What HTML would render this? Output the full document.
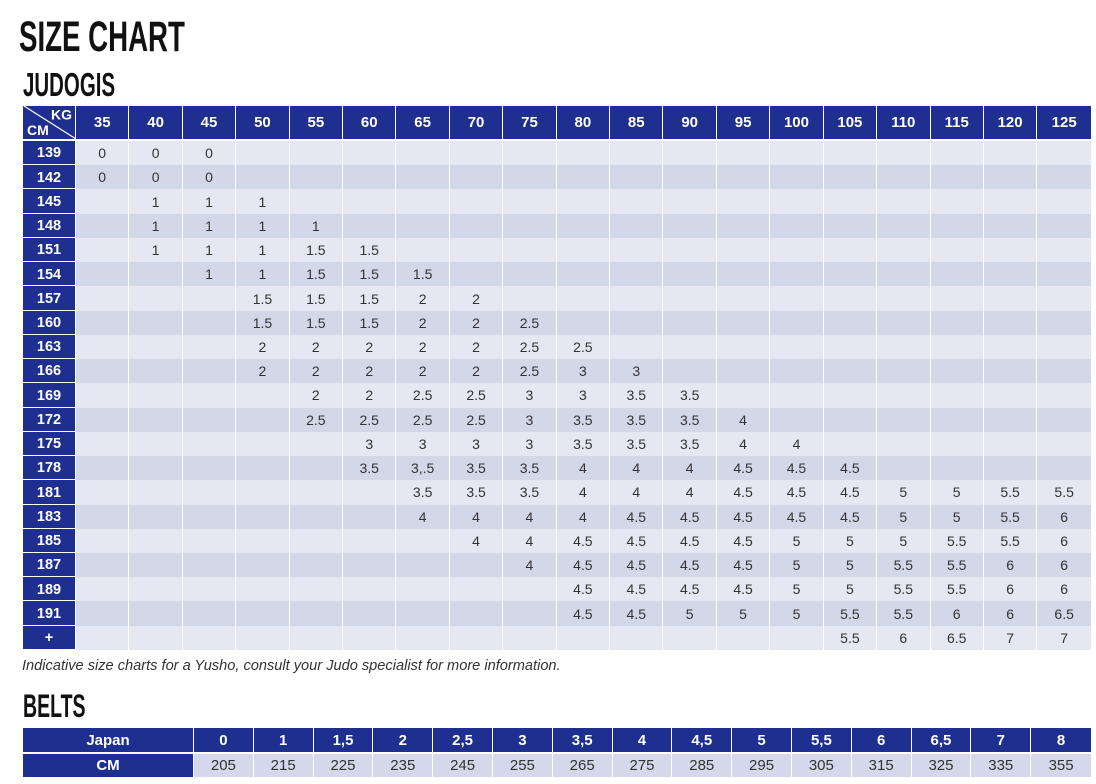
<!DOCTYPE html>
<html><head><meta charset="utf-8"><style>
html,body{margin:0;padding:0;background:#fff;}
body{width:1096px;height:784px;overflow:hidden;position:relative;font-family:"Liberation Sans",Arial,sans-serif;}
.t{position:absolute;font-weight:bold;color:#111;white-space:nowrap;transform-origin:0 0;line-height:1;}
#t1{left:19px;top:16px;font-size:43px;transform:scaleX(0.643);}
#t2{left:23px;top:68px;font-size:33px;transform:scaleX(0.62);}
#t3{left:23px;top:690px;font-size:32px;transform:scaleX(0.61);}
table{position:absolute;border-collapse:separate;border-spacing:0;table-layout:fixed;}
td,th{padding:0;text-align:center;vertical-align:middle;overflow:hidden;white-space:nowrap;}
#m{left:23px;top:106px;width:1068px;}
#m th{background:#1e2f8f;color:#fff;font-weight:bold;font-size:15px;}
#m thead th{height:33px;border-bottom:2px solid #fff;border-right:1.5px solid #fff;}
#m thead th:last-child{border-right:0;}
#m tbody th{font-size:14.5px;border-bottom:1.5px solid #fff;border-right:1.5px solid #fff;padding-top:1.5px;}
#m tbody tr{height:24.24px;}
#m td{font-size:14px;color:#333;border-right:1.5px solid #fff;}
#m td:last-child{border-right:0;}
#m tr.l td{background:#e5e8f2;}
#m tr.d td{background:#d3d8e9;}
#corner{position:relative;}
#corner svg{position:absolute;left:0;top:0;}
#note{position:absolute;left:22px;top:659px;font-size:14.6px;font-style:italic;color:#333;white-space:nowrap;line-height:1;}
#b{left:23px;top:728px;width:1068px;}
#b th{background:#1e2f8f;color:#fff;font-weight:bold;font-size:15px;border-right:1.5px solid #fff;}
#b tr.h th{height:24px;border-bottom:2px solid #fff;}
#b tr.h th:last-child{border-right:0;}
#b tr.c th{height:23px;}
#b td{background:#d4d8ea;color:#333;font-size:15px;height:23px;border-right:1.5px solid #fff;}
#b td:last-child{border-right:0;}
</style></head><body>
<div class="t" id="t1">SIZE CHART</div>
<div class="t" id="t2">JUDOGIS</div>

<table id="m">
<colgroup><col style="width:53px"><col span="19" style="width:53.42px"></colgroup>
<thead><tr>
<th id="corner"><svg width="53" height="33" viewBox="0 0 53 33"><line x1="1" y1="0" x2="53" y2="33" stroke="#fff" stroke-width="1.2"/><text x="49" y="13.5" fill="#fff" font-family="Liberation Sans, sans-serif" font-weight="bold" font-size="14" text-anchor="end">KG</text><text x="4" y="29" fill="#fff" font-family="Liberation Sans, sans-serif" font-weight="bold" font-size="14">CM</text></svg></th>
<th>35</th><th>40</th><th>45</th><th>50</th><th>55</th><th>60</th><th>65</th><th>70</th><th>75</th><th>80</th><th>85</th><th>90</th><th>95</th><th>100</th><th>105</th><th>110</th><th>115</th><th>120</th><th>125</th>
</tr></thead>
<tbody>
<tr class="l"><th>139</th><td>0</td><td>0</td><td>0</td><td></td><td></td><td></td><td></td><td></td><td></td><td></td><td></td><td></td><td></td><td></td><td></td><td></td><td></td><td></td><td></td></tr>
<tr class="d"><th>142</th><td>0</td><td>0</td><td>0</td><td></td><td></td><td></td><td></td><td></td><td></td><td></td><td></td><td></td><td></td><td></td><td></td><td></td><td></td><td></td><td></td></tr>
<tr class="l"><th>145</th><td></td><td>1</td><td>1</td><td>1</td><td></td><td></td><td></td><td></td><td></td><td></td><td></td><td></td><td></td><td></td><td></td><td></td><td></td><td></td><td></td></tr>
<tr class="d"><th>148</th><td></td><td>1</td><td>1</td><td>1</td><td>1</td><td></td><td></td><td></td><td></td><td></td><td></td><td></td><td></td><td></td><td></td><td></td><td></td><td></td><td></td></tr>
<tr class="l"><th>151</th><td></td><td>1</td><td>1</td><td>1</td><td>1.5</td><td>1.5</td><td></td><td></td><td></td><td></td><td></td><td></td><td></td><td></td><td></td><td></td><td></td><td></td><td></td></tr>
<tr class="d"><th>154</th><td></td><td></td><td>1</td><td>1</td><td>1.5</td><td>1.5</td><td>1.5</td><td></td><td></td><td></td><td></td><td></td><td></td><td></td><td></td><td></td><td></td><td></td><td></td></tr>
<tr class="l"><th>157</th><td></td><td></td><td></td><td>1.5</td><td>1.5</td><td>1.5</td><td>2</td><td>2</td><td></td><td></td><td></td><td></td><td></td><td></td><td></td><td></td><td></td><td></td><td></td></tr>
<tr class="d"><th>160</th><td></td><td></td><td></td><td>1.5</td><td>1.5</td><td>1.5</td><td>2</td><td>2</td><td>2.5</td><td></td><td></td><td></td><td></td><td></td><td></td><td></td><td></td><td></td><td></td></tr>
<tr class="l"><th>163</th><td></td><td></td><td></td><td>2</td><td>2</td><td>2</td><td>2</td><td>2</td><td>2.5</td><td>2.5</td><td></td><td></td><td></td><td></td><td></td><td></td><td></td><td></td><td></td></tr>
<tr class="d"><th>166</th><td></td><td></td><td></td><td>2</td><td>2</td><td>2</td><td>2</td><td>2</td><td>2.5</td><td>3</td><td>3</td><td></td><td></td><td></td><td></td><td></td><td></td><td></td><td></td></tr>
<tr class="l"><th>169</th><td></td><td></td><td></td><td></td><td>2</td><td>2</td><td>2.5</td><td>2.5</td><td>3</td><td>3</td><td>3.5</td><td>3.5</td><td></td><td></td><td></td><td></td><td></td><td></td><td></td></tr>
<tr class="d"><th>172</th><td></td><td></td><td></td><td></td><td>2.5</td><td>2.5</td><td>2.5</td><td>2.5</td><td>3</td><td>3.5</td><td>3.5</td><td>3.5</td><td>4</td><td></td><td></td><td></td><td></td><td></td><td></td></tr>
<tr class="l"><th>175</th><td></td><td></td><td></td><td></td><td></td><td>3</td><td>3</td><td>3</td><td>3</td><td>3.5</td><td>3.5</td><td>3.5</td><td>4</td><td>4</td><td></td><td></td><td></td><td></td><td></td></tr>
<tr class="d"><th>178</th><td></td><td></td><td></td><td></td><td></td><td>3.5</td><td>3,.5</td><td>3.5</td><td>3.5</td><td>4</td><td>4</td><td>4</td><td>4.5</td><td>4.5</td><td>4.5</td><td></td><td></td><td></td><td></td></tr>
<tr class="l"><th>181</th><td></td><td></td><td></td><td></td><td></td><td></td><td>3.5</td><td>3.5</td><td>3.5</td><td>4</td><td>4</td><td>4</td><td>4.5</td><td>4.5</td><td>4.5</td><td>5</td><td>5</td><td>5.5</td><td>5.5</td></tr>
<tr class="d"><th>183</th><td></td><td></td><td></td><td></td><td></td><td></td><td>4</td><td>4</td><td>4</td><td>4</td><td>4.5</td><td>4.5</td><td>4.5</td><td>4.5</td><td>4.5</td><td>5</td><td>5</td><td>5.5</td><td>6</td></tr>
<tr class="l"><th>185</th><td></td><td></td><td></td><td></td><td></td><td></td><td></td><td>4</td><td>4</td><td>4.5</td><td>4.5</td><td>4.5</td><td>4.5</td><td>5</td><td>5</td><td>5</td><td>5.5</td><td>5.5</td><td>6</td></tr>
<tr class="d"><th>187</th><td></td><td></td><td></td><td></td><td></td><td></td><td></td><td></td><td>4</td><td>4.5</td><td>4.5</td><td>4.5</td><td>4.5</td><td>5</td><td>5</td><td>5.5</td><td>5.5</td><td>6</td><td>6</td></tr>
<tr class="l"><th>189</th><td></td><td></td><td></td><td></td><td></td><td></td><td></td><td></td><td></td><td>4.5</td><td>4.5</td><td>4.5</td><td>4.5</td><td>5</td><td>5</td><td>5.5</td><td>5.5</td><td>6</td><td>6</td></tr>
<tr class="d"><th>191</th><td></td><td></td><td></td><td></td><td></td><td></td><td></td><td></td><td></td><td>4.5</td><td>4.5</td><td>5</td><td>5</td><td>5</td><td>5.5</td><td>5.5</td><td>6</td><td>6</td><td>6.5</td></tr>
<tr class="l"><th>+</th><td></td><td></td><td></td><td></td><td></td><td></td><td></td><td></td><td></td><td></td><td></td><td></td><td></td><td></td><td>5.5</td><td>6</td><td>6.5</td><td>7</td><td>7</td></tr>
</tbody>
</table>

<div id="note">Indicative size charts for a Yusho, consult your Judo specialist for more information.</div>

<div class="t" id="t3">BELTS</div>

<table id="b">
<colgroup><col style="width:171px"><col span="15" style="width:59.8px"></colgroup>
<tr class="h"><th>Japan</th><th>0</th><th>1</th><th>1,5</th><th>2</th><th>2,5</th><th>3</th><th>3,5</th><th>4</th><th>4,5</th><th>5</th><th>5,5</th><th>6</th><th>6,5</th><th>7</th><th>8</th></tr>
<tr class="c"><th>CM</th><td>205</td><td>215</td><td>225</td><td>235</td><td>245</td><td>255</td><td>265</td><td>275</td><td>285</td><td>295</td><td>305</td><td>315</td><td>325</td><td>335</td><td>355</td></tr>
</table>
</body></html>
